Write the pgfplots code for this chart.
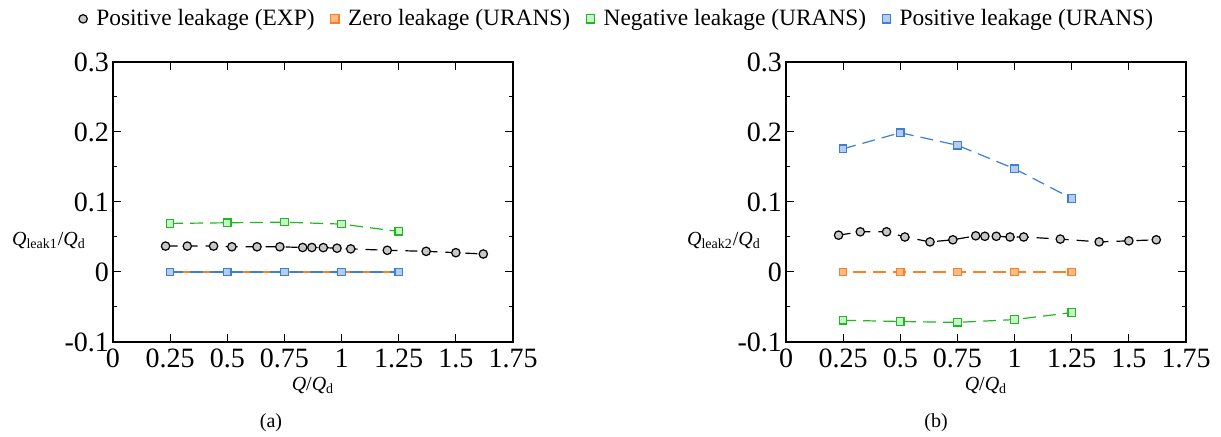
\documentclass[border=0pt]{standalone}
\usepackage{fontspec}
\setmainfont{Liberation Serif}
\usepackage{pgfplots}
\pgfplotsset{compat=1.18}
\definecolor{expfill}{HTML}{C8C8C8}
\definecolor{ordraw}{HTML}{FF8020}
\definecolor{orfill}{HTML}{FFBC88}
\definecolor{grdraw}{HTML}{1FB81F}
\definecolor{grfill}{HTML}{C8F5C8}
\definecolor{bldraw}{HTML}{3A7FD8}
\definecolor{blfill}{HTML}{B8CCEA}
\pgfplotsset{
  panel/.style={
    scale only axis, width=200pt, height=140pt,
    xmin=0, xmax=1.75, ymin=-0.1, ymax=0.3,
    xtick={0,0.25,...,1.75}, ytick={-0.1,0,...,0.3},
    minor y tick num=1,
    clip mode=individual,
    tick align=inside, tick style={black, line width=0.5pt},
    major tick length=4pt, minor tick length=2pt,
    axis line style={line width=0.7pt},
    /pgf/number format/assume math mode=true,
    ticklabel style={font=\fontsize{14}{16}\selectfont},
    yticklabel style={xshift=1.5pt},
    label style={font=\fontsize{14.2}{16}\selectfont},
    every axis x label/.style={at={(rel axis cs:0.5,-0.154)}, anchor=center},
    every axis y label/.style={at={(rel axis cs:-0.16,0.364)}, anchor=center},
    legend image code/.code={\draw[#1, only marks, mark size=2.1pt] plot coordinates {(0.15cm,0cm)};},
  },
  expstyle/.style={black, line width=0.6pt, dash pattern=on 6pt off 4pt, mark=*, mark size=2.1pt, mark options={solid, fill=expfill, draw=black}},
  orstyle/.style={ordraw, line width=0.6pt, dash pattern=on 6.5pt off 3.5pt, dash phase=5pt, mark=square*, mark size=1.85pt, mark options={solid, fill=orfill, draw=ordraw}},
  grstyle/.style={grdraw, line width=0.6pt, dash pattern=on 6.5pt off 3.5pt, mark=square*, mark size=1.85pt, mark options={solid, fill=grfill, draw=grdraw}},
  blstyle/.style={bldraw, line width=0.6pt, dash pattern=on 6.5pt off 3.5pt, mark=square*, mark size=1.85pt, mark options={solid, fill=blfill, draw=bldraw}},
}
\begin{document}
\begin{tikzpicture}
\path[use as bounding box] (0,0) rectangle (610.5pt,218.5pt);
\begin{axis}[panel, at={(56.5pt,47.5pt)}, anchor=south west,
  xlabel={\textit{Q}/\textit{Q}\textsubscript{d}},
  ylabel={\textit{Q}\textsubscript{leak1}/\textit{Q}\textsubscript{d}},
  legend columns=4,
  legend style={at={(rel axis cs:1.2625,1.154)}, anchor=center, draw=none, fill=none,
    font=\fontsize{11.7}{14}\selectfont,
    /tikz/every odd column/.append style={column sep=2.5pt},
    /tikz/every even column/.append style={column sep=6pt}},
  legend cell align=left]
\addplot[expstyle] coordinates {
(0.23,0.037) (0.325,0.037) (0.44,0.037) (0.52,0.036) (0.63,0.036) (0.73,0.036)
(0.83,0.035) (0.87,0.035) (0.92,0.0348) (0.98,0.034) (1.04,0.033) (1.2,0.031)
(1.37,0.0295) (1.5,0.0276) (1.62,0.0257)};
\addlegendentry{Positive leakage (EXP)}
\addplot[orstyle] coordinates {(0.25,0) (0.5,0) (0.75,0) (1,0) (1.25,0)};
\addlegendentry{Zero leakage (URANS)}
\addplot[grstyle] coordinates {(0.25,0.0694) (0.5,0.0703) (0.75,0.0712) (1,0.0684) (1.25,0.058)};
\addlegendentry{Negative leakage (URANS)}
\addplot[blstyle] coordinates {(0.25,0) (0.5,0) (0.75,0) (1,0) (1.25,0)};
\addlegendentry{Positive leakage (URANS)}
\node[font=\fontsize{10}{12}\selectfont] at (rel axis cs:0.395,-0.289) {(a)};
\end{axis}
\begin{axis}[panel, at={(393pt,47.5pt)}, anchor=south west,
  xlabel={\textit{Q}/\textit{Q}\textsubscript{d}},
  ylabel={\textit{Q}\textsubscript{leak2}/\textit{Q}\textsubscript{d}},
  every axis y label/.style={at={(rel axis cs:-0.155,0.364)}, anchor=center}]
\addplot[expstyle] coordinates {
(0.23,0.0526) (0.325,0.0574) (0.44,0.0574) (0.52,0.050) (0.63,0.043) (0.73,0.046)
(0.83,0.0517) (0.87,0.051) (0.92,0.051) (0.98,0.050) (1.04,0.050) (1.2,0.047)
(1.37,0.043) (1.5,0.0445) (1.62,0.046)};
\addplot[orstyle] coordinates {(0.25,0) (0.5,0) (0.75,0) (1,0) (1.25,0)};
\addplot[grstyle] coordinates {(0.25,-0.069) (0.5,-0.0707) (0.75,-0.072) (1,-0.068) (1.25,-0.058)};
\addplot[blstyle] coordinates {(0.25,0.176) (0.5,0.199) (0.75,0.181) (1,0.1475) (1.25,0.105)};
\node[font=\fontsize{10}{12}\selectfont] at (rel axis cs:0.375,-0.289) {(b)};
\end{axis}
\end{tikzpicture}
\end{document}
